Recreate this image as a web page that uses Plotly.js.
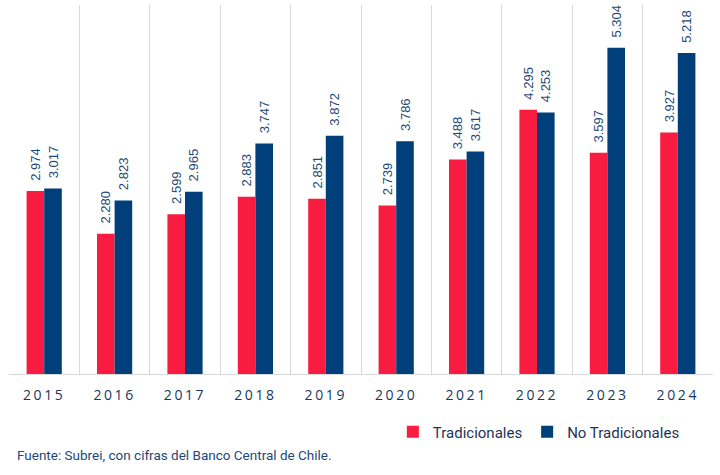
<!DOCTYPE html>
<html>
<head>
<meta charset="utf-8">
<script src="https://cdn.plot.ly/plotly-3.0.1.min.js"></script>
<style>
  body { margin: 0; background: #fff; }
  #chart { width: 720px; height: 475px; }
  .xtick text { letter-spacing: 2.6px; }
</style>
</head>
<body>
<div id="chart"></div>
<script>
// años y montos (miles de millones US$)
var years = ["2015", "2016", "2017", "2018", "2019", "2020", "2021", "2022", "2023", "2024"];
var tradicionales = [2.974, 2.280, 2.599, 2.883, 2.851, 2.739, 3.488, 4.295, 3.597, 3.927];
var noTradicionales = [3.017, 2.823, 2.965, 3.747, 3.872, 3.786, 3.617, 4.253, 5.304, 5.218];

var red = "#f81c40";
var blue = "#003f7a";
var txt = "#1d4a77";

// leading nbsp leave a small gap between bar top and rotated label
function fmt(v) {
  return "\u00a0\u00a0" + v.toFixed(3);
}

var labelFont = {family: "Liberation Sans, Arial, sans-serif", size: 13, color: txt};

var traces = [
  {
    type: "bar",
    name: "Tradicionales",
    x: years,
    y: tradicionales,
    marker: {color: red},
    text: tradicionales.map(fmt),
    textposition: "outside",
    textangle: -90,
    constraintext: "none",
    cliponaxis: false,
    textfont: labelFont,
    hoverinfo: "x+y"
  },
  {
    type: "bar",
    name: "No Tradicionales",
    x: years,
    y: noTradicionales,
    marker: {color: blue},
    text: noTradicionales.map(fmt),
    textposition: "outside",
    textangle: -90,
    constraintext: "none",
    cliponaxis: false,
    textfont: labelFont,
    hoverinfo: "x+y"
  }
];

var layout = {
  width: 720,
  height: 475,
  margin: {l: 9, r: 7, t: 5, b: 101},
  paper_bgcolor: "#ffffff",
  plot_bgcolor: "#ffffff",
  barmode: "group",
  bargap: 0.5,
  bargroupgap: 0,
  showlegend: true,
  legend: {
    orientation: "h",
    x: 0.96,
    xanchor: "right",
    y: -0.157,
    yanchor: "middle",
    font: {family: "Roboto, sans-serif", size: 15, color: "#1d3557"},
    traceorder: "normal"
  },
  xaxis: {
    type: "category",
    tickson: "boundaries",
    showgrid: true,
    gridcolor: "#d9d9d9",
    gridwidth: 1,
    showline: true,
    linecolor: "#d9d9d9",
    ticks: "",
    ticklabelstandoff: 8,
    tickfont: {family: "Open Sans, DejaVu Sans, sans-serif", size: 14, color: "#17375e"},
    zeroline: false
  },
  yaxis: {
    range: [0, 6],
    showgrid: false,
    showticklabels: false,
    zeroline: false,
    showline: false,
    ticks: ""
  },
  annotations: [
    {
      text: "Fuente: Subrei, con cifras del Banco Central de Chile.",
      xref: "paper",
      yref: "paper",
      x: 0.008,
      y: -0.22,
      xanchor: "left",
      yanchor: "middle",
      showarrow: false,
      font: {family: "Roboto, sans-serif", size: 13.5, color: "#1d4a77"}
    }
  ]
};

Plotly.newPlot("chart", traces, layout, {displayModeBar: false, staticPlot: true});
</script>
</body>
</html>
